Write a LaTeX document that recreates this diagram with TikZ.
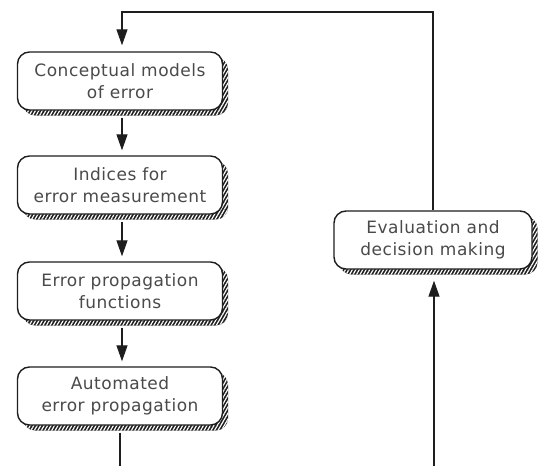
\documentclass[tikz,border=0pt]{standalone}
\usepackage{fontspec}
\newfontfamily\labfont[LetterSpace=3.0]{DejaVu Sans}
\usetikzlibrary{arrows.meta,shadows,patterns.meta}
\definecolor{ink}{HTML}{1E1E1E}
\definecolor{txt}{HTML}{4A4A4A}
\begin{document}
\begin{tikzpicture}[x=1pt,y=-1pt,
  flowbox/.style={draw=ink, line width=1.4pt, rounded corners=12pt, fill=white,
    minimum width=205pt, minimum height=58pt, align=center, inner sep=0pt,
    text=txt, font=\labfont\fontsize{17}{22}\selectfont,
    general shadow={shadow xshift=5.5pt, shadow yshift=-5.5pt, fill=ink},
    general shadow={shadow xshift=5.5pt, shadow yshift=-5.5pt,
      pattern={Lines[angle=60,distance=3pt,line width=1.2pt]}, pattern color=white}},
  link/.style={draw=ink, line width=1.2pt},
  arr/.style={link, -{Triangle[length=16pt,width=11pt]}}]
\useasboundingbox (0,0) rectangle (544,466);
\node[flowbox] (c1) at (120,81) {Conceptual models\\of error};
\node[flowbox] (c2) at (120,185) {Indices for\\error measurement};
\node[flowbox] (c3) at (120,291) {Error propagation\\functions};
\node[flowbox] (c4) at (120,396) {Automated\\error propagation};
\node[flowbox, minimum width=198pt] (ev) at (433,240) {Evaluation and\\decision making};
\coordinate (tl) at (122,12);
\coordinate (bl) at (120,466);
\coordinate (br) at (434,466);
\draw[arr, shorten >=6pt] (ev.north) |- (tl) -- (tl |- c1.north);
\draw[arr, shorten <=7pt, shorten >=5pt] ([xshift=2pt]c1.south) -- ([xshift=2pt]c2.north);
\draw[arr, shorten <=7pt, shorten >=5pt] ([xshift=2pt]c2.south) -- ([xshift=2pt]c3.north);
\draw[arr, shorten <=7pt, shorten >=5pt] ([xshift=2pt]c3.south) -- ([xshift=2pt]c4.north);
\draw[link, shorten <=7pt] (c4.south) -- (bl);
\draw[arr, shorten >=11pt] (br) -- (br |- ev.south);
\end{tikzpicture}
\end{document}
